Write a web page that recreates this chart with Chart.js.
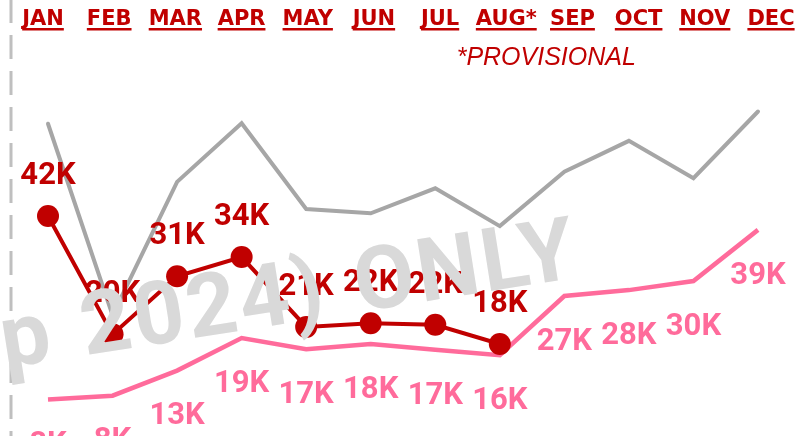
<!DOCTYPE html>
<html>
<head>
<meta charset="utf-8">
<script src="https://cdn.jsdelivr.net/npm/chart.js@4/dist/chart.umd.min.js"></script>
<style>
  html, body { margin: 0; padding: 0; background: #ffffff; }
  #wrap { width: 804px; height: 436px; position: relative; }
</style>
</head>
<body>
<div id="wrap"><canvas id="c" width="804" height="436"></canvas></div>
<script>
// ---- data (values in thousands) ----
const months = ['JAN','FEB','MAR','APR','MAY','JUN','JUL','AUG*','SEP','OCT','NOV','DEC'];
const currentYear = [42, 19.8, 30.7, 34.3, 21.2, 21.9, 21.6, 18.0, null, null, null, null];
const lastYear    = [7.6, 8.3, 13.0, 19.1, 17.0, 18.0, 16.9, 15.9, 27.0, 28.1, 29.8, 39.4];
const priorYear   = [59.3, 23.4, 48.4, 59.4, 43.3, 42.5, 47.2, 40.1, 50.3, 56.1, 49.1, 61.6];
const footnote = '*PROVISIONAL';
const watermark = 'p 2024) ONLY';

const RED = '#C00000';
const PINK = '#FF6B9B';
const GREY = '#A6A6A6';

const fmtK = v => Math.round(v) + 'K';

const decorPlugin = {
  id: 'decor',
  beforeDraw(chart) {
    const ctx = chart.ctx;
    ctx.save();
    ctx.strokeStyle = '#BFBFBF';
    ctx.lineWidth = 3;
    ctx.setLineDash([24, 12]);
    ctx.beginPath();
    ctx.moveTo(11, -1);
    ctx.lineTo(11, chart.height);
    ctx.stroke();
    ctx.restore();
  },
  afterDatasetsDraw(chart) {
    const ctx = chart.ctx;
    const x = chart.scales.x;
    ctx.save();
    // month header labels
    ctx.font = 'bold 21px "DejaVu Sans"';
    ctx.fillStyle = RED;
    ctx.textAlign = 'center';
    ctx.textBaseline = 'alphabetic';
    const first = x.getPixelForValue(0) - 5;
    const last = x.getPixelForValue(months.length - 1) + 13;
    const step = (last - first) / (months.length - 1);
    months.forEach((m, i) => {
      const cx = first + i * step;
      ctx.fillText(m, cx, 25);
      const w = ctx.measureText(m).width;
      ctx.fillRect(cx - w / 2, 28, w, 2.5);
    });
    // footnote under AUG
    ctx.font = 'italic 25px "Liberation Sans"';
    ctx.fillText(footnote, first + 7 * step + 40, 65);

    // data labels
    ctx.font = 'bold 31px Roboto';
    ctx.textBaseline = 'middle';
    chart.data.datasets.forEach((ds, di) => {
      if (!ds.labelPos) return;
      const meta = chart.getDatasetMeta(di);
      ctx.fillStyle = ds.labelColor;
      meta.data.forEach((pt, i) => {
        const v = ds.data[i];
        if (v === null || v === undefined) return;
        const dy = ds.labelPos === 'above' ? -40 : 46;
        ctx.fillText(fmtK(v), pt.x, pt.y + dy);
      });
    });
    ctx.restore();
  },
  afterDraw(chart) {
    const ctx = chart.ctx;
    ctx.save();
    ctx.translate(5, 368);
    ctx.rotate(-9 * Math.PI / 180);
    ctx.font = 'bold 88px Roboto';
    try { ctx.letterSpacing = '3px'; ctx.wordSpacing = '4px'; } catch (e) {}
    ctx.fillStyle = '#D9D9D9';
    ctx.textAlign = 'left';
    ctx.textBaseline = 'alphabetic';
    ctx.fillText(watermark, 0, 0);
    ctx.restore();
  }
};

new Chart(document.getElementById('c'), {
  type: 'line',
  data: {
    labels: months,
    datasets: [
      {
        data: currentYear,
        borderColor: RED,
        backgroundColor: RED,
        borderWidth: 4,
        pointRadius: 11,
        pointHoverRadius: 11,
        pointBackgroundColor: RED,
        pointBorderWidth: 0,
        tension: 0,
        clip: false,
        order: 0,
        labelPos: 'above',
        labelColor: RED
      },
      {
        data: lastYear,
        borderColor: PINK,
        backgroundColor: PINK,
        borderWidth: 4.5,
        pointRadius: 0,
        tension: 0,
        clip: false,
        order: 1,
        labelPos: 'below',
        labelColor: PINK
      },
      {
        data: priorYear,
        borderColor: GREY,
        backgroundColor: GREY,
        borderWidth: 4,
        pointRadius: 0,
        tension: 0,
        clip: false,
        order: 2,
        borderCapStyle: 'round'
      }
    ]
  },
  options: {
    responsive: false,
    animation: false,
    events: [],
    layout: { padding: { left: 48, right: 46, top: 0, bottom: 0 } },
    plugins: { legend: { display: false }, tooltip: { enabled: false } },
    scales: {
      x: { display: false, offset: false },
      y: { display: false, min: 2.8, max: 80.45 }
    }
  },
  plugins: [decorPlugin]
});
</script>
</body>
</html>
